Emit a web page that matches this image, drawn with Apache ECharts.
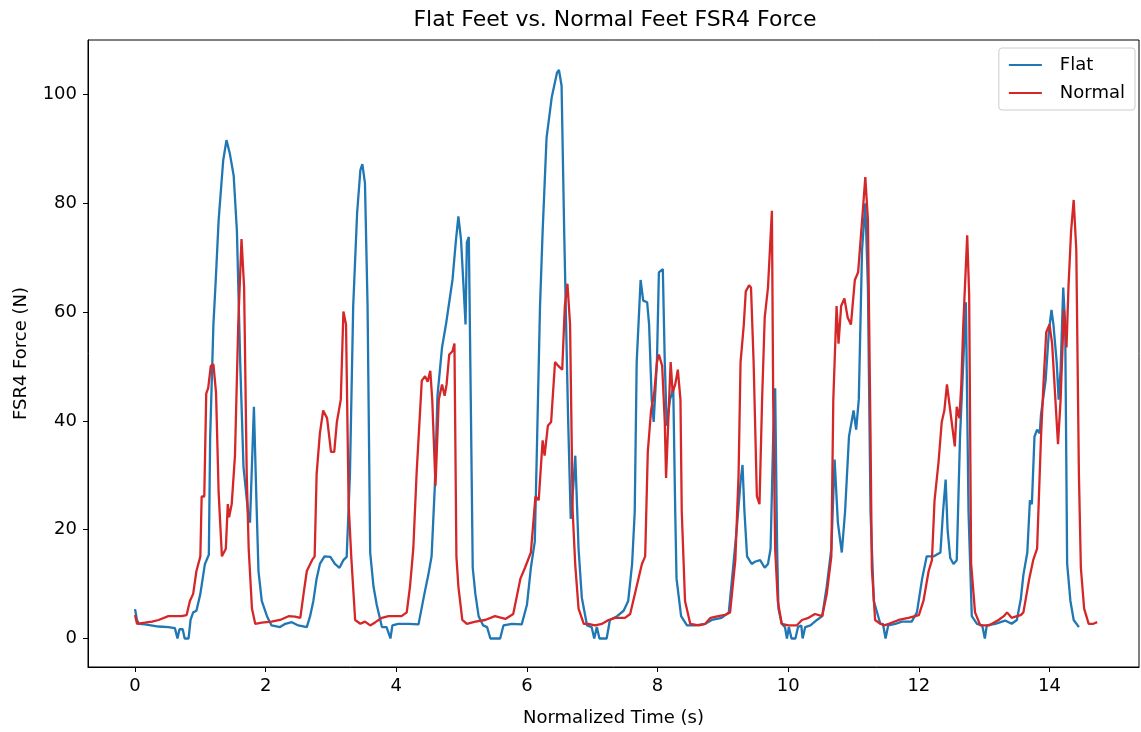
<!DOCTYPE html>
<html>
<head>
<meta charset="utf-8">
<script src="https://cdn.jsdelivr.net/npm/echarts@6/dist/echarts.min.js"></script>
<style>
html,body{margin:0;padding:0;background:#fff;}
#chart{width:1141px;height:732px;}
</style>
</head>
<body>
<div id="chart"></div>
<script>
// ---- Data ----
const flatTime = [0,0.03,0.06,0.15,0.36,0.51,0.61,0.65,0.68,0.73,0.76,0.82,0.85,0.89,0.94,1.0,1.07,1.13,1.15,1.2,1.23,1.28,1.35,1.40,1.45,1.51,1.56,1.61,1.66,1.73,1.76,1.82,1.86,1.89,1.94,2.02,2.09,2.22,2.30,2.40,2.50,2.63,2.68,2.73,2.78,2.83,2.90,2.99,3.06,3.13,3.19,3.24,3.29,3.34,3.40,3.45,3.48,3.52,3.56,3.60,3.65,3.70,3.78,3.85,3.91,3.94,4.03,4.19,4.34,4.43,4.49,4.54,4.59,4.63,4.70,4.76,4.81,4.86,4.91,4.95,4.99,5.03,5.06,5.08,5.11,5.14,5.17,5.21,5.26,5.33,5.39,5.44,5.59,5.64,5.77,5.92,6.0,6.06,6.12,6.15,6.20,6.24,6.30,6.38,6.46,6.49,6.53,6.57,6.63,6.67,6.71,6.74,6.79,6.84,6.92,6.99,7.03,7.07,7.11,7.22,7.27,7.38,7.48,7.55,7.61,7.65,7.68,7.74,7.78,7.84,7.87,7.91,7.94,7.99,8.02,8.08,8.11,8.14,8.19,8.24,8.27,8.29,8.36,8.45,8.58,8.73,8.83,8.98,9.09,9.14,9.21,9.27,9.30,9.33,9.37,9.44,9.49,9.57,9.64,9.69,9.73,9.77,9.80,9.83,9.85,9.90,9.95,9.98,10.01,10.05,10.11,10.15,10.2,10.22,10.26,10.34,10.44,10.52,10.59,10.66,10.71,10.76,10.82,10.87,10.93,11.0,11.04,11.08,11.13,11.18,11.22,11.26,11.31,11.41,11.45,11.49,11.53,11.64,11.74,11.89,11.97,12.05,12.12,12.23,12.33,12.37,12.41,12.44,12.48,12.53,12.58,12.63,12.68,12.72,12.76,12.81,12.89,12.97,13.01,13.04,13.17,13.32,13.42,13.50,13.56,13.60,13.66,13.70,13.73,13.77,13.81,13.85,13.87,13.94,13.99,14.03,14.06,14.11,14.14,14.17,14.21,14.24,14.27,14.32,14.37,14.45];
const flatForce = [5.4,3.4,2.7,2.6,2.2,2.1,1.9,0,1.7,1.7,0,0,3.4,4.8,5.1,8.2,13.7,15.4,37,57.7,64.5,76.9,87.9,91.6,89.2,85.1,74.8,50.8,31.6,23.3,21.3,42.6,24.7,12.4,6.9,4.1,2.4,2.1,2.7,3.0,2.4,2.1,4.1,6.9,11,13.7,15.1,15.0,13.7,13.0,14.4,15,30.2,61.1,78.2,86.1,87.2,83.7,61.1,15.8,9.6,6.2,2.1,2.1,0,2.4,2.7,2.7,2.6,8.2,11.7,15.1,28.1,44.6,53.5,57.7,61.8,65.9,72.8,77.6,73.4,64.5,57.7,72.8,73.8,43.9,13,8.2,4.1,2.4,2.1,0,0,2.4,2.7,2.6,6.2,13,17.8,33.6,61.1,74.8,92,99.5,104,104.5,101.6,74.8,40.5,22,28.1,33.6,16.5,7.5,2.4,2.1,0,2.1,0,0,3.4,4.1,5.1,6.9,13.7,23.3,50.8,65.9,62.1,61.8,57.7,43.9,39.8,50.8,67.3,67.9,50.8,39.1,43.9,46,23.3,11,4.1,2.4,2.4,2.7,3.4,3.8,4.8,11,19.9,28.8,31.9,23.3,15.1,13.7,14.1,14.4,13,13.7,16.5,37.1,46,16.5,5.5,2.7,2.1,0,2.1,0,0,2.1,2.4,0,2.1,2.4,3.4,4.1,9.6,16.5,32.9,21.3,15.8,23.3,37.1,41.9,38.4,43.9,71.4,80,64.5,23.3,6.9,2.7,2.7,0,2.4,2.7,3.1,3.1,4.8,11,15.1,15.1,15.8,23.3,29.2,19.9,14.8,13.7,14.4,37.1,50.8,61.8,23.3,4.1,2.7,2.4,0,2.4,2.7,3.3,2.7,3.4,7.2,11.7,15.8,25.4,24.7,37.1,38.4,37.7,41.2,47.4,56.3,60.4,57.7,50.8,43.9,49.4,64.5,57.7,13.7,6.9,3.4,2.1];

const normalTime = [0,0.03,0.06,0.15,0.26,0.36,0.51,0.71,0.79,0.84,0.89,0.94,1.0,1.02,1.06,1.09,1.12,1.16,1.2,1.24,1.28,1.33,1.36,1.39,1.42,1.44,1.48,1.53,1.58,1.63,1.67,1.71,1.74,1.79,1.84,1.94,2.09,2.22,2.35,2.45,2.53,2.58,2.63,2.71,2.75,2.78,2.83,2.88,2.94,3.00,3.05,3.09,3.11,3.15,3.19,3.23,3.27,3.31,3.37,3.45,3.52,3.60,3.68,3.78,3.88,4.08,4.16,4.21,4.26,4.31,4.39,4.44,4.48,4.52,4.55,4.60,4.65,4.70,4.74,4.77,4.81,4.86,4.89,4.92,4.95,5.01,5.08,5.21,5.36,5.51,5.67,5.79,5.90,5.97,6.06,6.13,6.18,6.24,6.27,6.32,6.37,6.43,6.48,6.54,6.58,6.62,6.66,6.70,6.74,6.79,6.87,6.94,7.04,7.15,7.25,7.35,7.50,7.58,7.68,7.76,7.81,7.85,7.90,7.95,7.99,8.02,8.07,8.11,8.13,8.17,8.20,8.23,8.27,8.31,8.35,8.37,8.42,8.50,8.63,8.73,8.81,8.93,9.05,9.11,9.19,9.24,9.27,9.32,9.35,9.40,9.43,9.47,9.52,9.56,9.60,9.64,9.69,9.75,9.77,9.80,9.84,9.90,10.0,10.13,10.21,10.31,10.41,10.52,10.59,10.66,10.69,10.74,10.77,10.81,10.86,10.91,10.96,11.02,11.07,11.10,11.14,11.18,11.22,11.26,11.28,11.33,11.41,11.47,11.54,11.69,11.84,12.00,12.07,12.15,12.20,12.24,12.30,12.35,12.39,12.43,12.48,12.55,12.58,12.62,12.65,12.68,12.74,12.77,12.80,12.86,12.94,13.07,13.22,13.30,13.35,13.42,13.50,13.56,13.60,13.65,13.69,13.75,13.81,13.87,13.91,13.95,14.0,14.04,14.09,14.13,14.17,14.22,14.26,14.29,14.33,14.37,14.41,14.45,14.48,14.53,14.60,14.67,14.73];
const normalForce = [4.3,2.7,2.4,2.9,3.1,3.4,4.1,4.1,4.3,6.9,8.2,12.4,15.1,26.1,26.1,45,46,50.1,50.4,45.2,26.8,15.1,14.8,16.5,24.7,22.3,24.7,33.6,57.7,73.4,64.5,30.2,16.5,5.5,2.7,2.9,3.1,3.4,4.1,4.0,3.8,8.2,12.4,14.4,15.1,30.2,37.7,41.9,40.5,34.3,34.3,39.8,39.8,43.9,60.1,57.7,24.7,15.1,3.4,2.7,3.1,2.4,3.0,3.8,4.1,4.1,4.8,9.6,16.5,30.2,47.4,48.2,47.2,49.2,43.9,28.1,43.9,46.7,44.6,46.7,52.2,52.8,54.2,15.1,9.6,3.4,2.7,3.1,3.4,4.1,3.6,4.5,11,13,15.8,26.1,25.4,36.4,33.6,39.1,39.8,50.8,50.1,49.4,61.1,65.2,57.7,23.3,13.4,5.5,2.7,2.7,2.4,2.7,3.4,3.8,3.8,4.5,9.6,13.7,15.1,34.3,41.9,45.3,50.8,52.2,50.1,39.8,29.5,41.9,50.8,45.3,46.7,49.4,43.9,23.3,6.9,2.7,2.4,2.7,3.8,4.1,4.4,4.8,14.4,30.2,50.8,57.7,63.8,64.9,64.5,50.8,26.1,24.7,43.9,59,64.5,78.6,43.9,16.5,6.9,2.7,2.4,2.4,3.4,3.8,4.5,4.1,8.2,15.1,43.9,61.1,54.2,61.1,62.5,59,57.7,65.9,67.3,67.6,78.3,84.8,76.9,37.1,13,3.4,2.7,2.4,2.7,3.4,3.8,4.3,6.9,12.4,14.4,25.4,32.3,39.8,41.9,46.7,41.9,35.3,42.6,40.5,46.7,57.7,74.1,63.1,13.7,4.8,2.4,2.4,3.4,4.1,4.8,3.8,4.1,4.3,4.8,8.2,11,14.4,16.5,37.1,47.4,56.3,57.7,54.2,43.9,35.7,43.9,60.4,53.5,64.5,74.8,80.6,71.4,30.2,13,5.5,2.7,2.7,3.0];

const xTicks = [0, 2, 4, 6, 8, 10, 12, 14];
const yTicks = [0, 20, 40, 60, 80, 100];
const seriesNames = ['Flat', 'Normal'];

// ---- Chart ----
const pair = (t, v) => t.map((x, i) => [x, v[i]]);
const FONT = 'DejaVu Sans';
const chart = echarts.init(document.getElementById('chart'), null, { renderer: 'canvas' });
chart.setOption({
  animation: false,
  backgroundColor: '#ffffff',
  textStyle: { fontFamily: FONT, color: '#000' },
  grid: { left: 88, right: 2, top: 40, bottom: 64, show: true, borderColor: '#000', borderWidth: 1, backgroundColor: 'transparent' },
  graphic: [{
    type: 'text', x: 615, y: 20,
    style: { text: 'Flat Feet vs. Normal Feet FSR4 Force', font: '22px "DejaVu Sans"', fill: '#000', align: 'center', verticalAlign: 'middle' }
  }],
  legend: {
    data: seriesNames, orient: 'vertical', right: 6, top: 48,
    padding: [8, 10, 8, 10], itemGap: 10, itemWidth: 33, itemHeight: 2,
    icon: 'rect',
    backgroundColor: 'rgba(255,255,255,0.8)', borderColor: '#cccccc', borderWidth: 1, borderRadius: 3,
    textStyle: { fontFamily: FONT, fontSize: 18, color: '#000', padding: [0, 0, 0, 13] }
  },
  xAxis: {
    type: 'value', min: -0.72, max: 15.37,
    name: 'Normalized Time (s)', nameLocation: 'middle', nameGap: 42,
    nameTextStyle: { fontFamily: FONT, fontSize: 18, color: '#000' },
    axisLine: { show: true, onZero: false, lineStyle: { color: '#000', width: 1 } },
    axisTick: { show: true, length: 5, customValues: xTicks, lineStyle: { color: '#000' } },
    axisLabel: { customValues: xTicks, margin: 10, fontFamily: FONT, fontSize: 18, color: '#000' },
    splitLine: { show: false }
  },
  yAxis: {
    type: 'value', min: -5.24, max: 110,
    name: 'FSR4 Force (N)', nameLocation: 'middle', nameGap: 58, nameRotate: 90,
    nameTextStyle: { fontFamily: FONT, fontSize: 18, color: '#000' },
    axisLine: { show: true, onZero: false, lineStyle: { color: '#000', width: 1 } },
    axisTick: { show: true, length: 5, customValues: yTicks, lineStyle: { color: '#000' } },
    axisLabel: { customValues: yTicks, margin: 11, fontFamily: FONT, fontSize: 18, color: '#000' },
    splitLine: { show: false }
  },
  series: [
    { name: seriesNames[0], type: 'line', data: pair(flatTime, flatForce), showSymbol: false, symbol: 'none',
      lineStyle: { color: '#1f77b4', width: 2.3 }, itemStyle: { color: '#1f77b4' }, z: 2 },
    { name: seriesNames[1], type: 'line', data: pair(normalTime, normalForce), showSymbol: false, symbol: 'none',
      lineStyle: { color: '#d62728', width: 2.3 }, itemStyle: { color: '#d62728' }, z: 3 }
  ]
});
</script>
</body>
</html>
